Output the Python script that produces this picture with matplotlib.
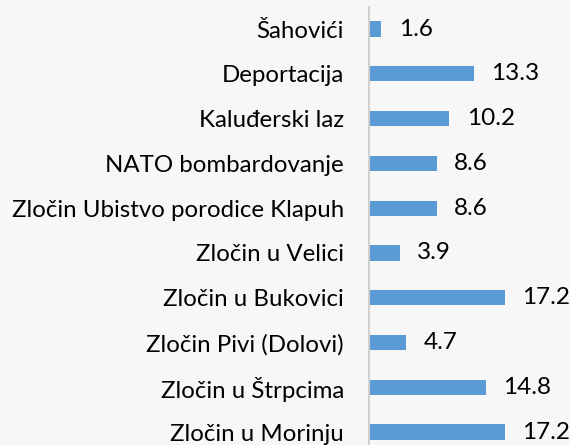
import matplotlib
matplotlib.use('Agg')
import matplotlib.pyplot as plt

categories = ['Šahovići', 'Deportacija', 'Kaluđerski laz', 'NATO bombardovanje',
              'Zločin Ubistvo porodice Klapuh', 'Zločin u Velici', 'Zločin u Bukovici',
              'Zločin Pivi (Dolovi)', 'Zločin u Štrpcima', 'Zločin u Morinju']
values = [1.6, 13.3, 10.2, 8.6, 8.6, 3.9, 17.2, 4.7, 14.8, 17.2]
value_labels = ['1.6', '13.3', '10.2', '8.6', '8.6', '3.9', '17.2', '4.7', '14.8', '17.2']

plt.rcParams['font.family'] = ['Lato', 'DejaVu Sans']

fig = plt.figure(figsize=(5.7, 4.45), dpi=100, facecolor='#f7f7f7')
ax = fig.add_axes([0.647, 0.0, 0.342, 0.984])
ax.set_facecolor('#f7f7f7')

pos = list(range(len(categories)))
ax.barh(pos, values, height=0.34, color='#5b9bd5')
for p, v, lab in zip(pos, values, value_labels):
    ax.text(v + 2.2, p, lab, va='center', ha='left', fontsize=17.5, color='#000000')

ax.set_yticks(pos)
ax.set_yticklabels(categories, fontsize=17.3, color='#000000')
ax.tick_params(axis='y', length=0, pad=18)
ax.set_xticks([])
ax.set_xlim(0, 24.7)
ax.set_ylim(9.29, -0.49)
for s in ['top', 'right', 'bottom']:
    ax.spines[s].set_visible(False)
ax.spines['left'].set_color('#d0d0d0')
ax.spines['left'].set_linewidth(1.5)

fig.savefig('out.png', dpi=100, facecolor=fig.get_facecolor())
